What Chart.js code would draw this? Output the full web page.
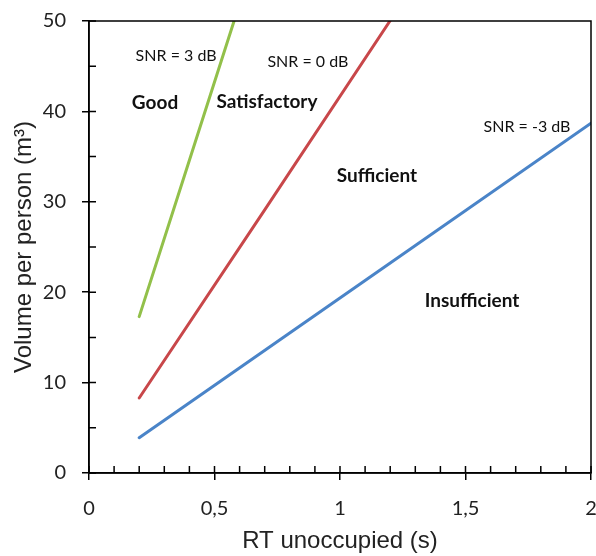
<!DOCTYPE html>
<html><head><meta charset="utf-8">
<style>html,body{margin:0;padding:0;background:#fff;}</style>
<script src="https://cdn.jsdelivr.net/npm/chart.js@4.4.0/dist/chart.umd.min.js"></script>
</head><body>
<canvas id="c" width="596" height="556"></canvas>
<script>
// Data
const rtGreen = [0.2, 0.4, 0.578];
const volGreen = [17.3, 34.6, 50];
const rtRed = [0.2, 0.7, 1.199];
const volRed = [8.3, 29.1, 50];
const rtBlue = [0.2, 1.1, 2.0];
const volBlue = [3.9, 21.3, 38.7];

const xTickValues = [0, 0.5, 1, 1.5, 2];
const xTickLabels = ["0", "0,5", "1", "1,5", "2"];
const yTickLabels = ["0", "10", "20", "30", "40", "50"];

const annoText = ["SNR = 3 dB", "SNR = 0 dB", "SNR = -3 dB", "Good", "Satisfactory", "Sufficient", "Insufficient"];
const annoX = [0.347, 0.872, 1.745, 0.263, 0.709, 1.147, 1.526];
const annoY = [46.1, 45.5, 38.3, 40.9, 41.0, 32.9, 19.0];
const annoBold = [false, false, false, true, true, true, true];

function pts(xs, ys) { return xs.map((x, i) => ({x: x, y: ys[i]})); }
const near = (a, b) => Math.abs(a - b) < 1e-6;
function isMajorX(v) { return near(v * 2, Math.round(v * 2)); }
function isMajorY(v) { return near(v / 10, Math.round(v / 10)); }

const framePlugin = {
  id: 'frame',
  afterDraw(chart) {
    const {ctx, chartArea: a, scales} = chart;
    ctx.save();
    ctx.strokeStyle = '#000';
    ctx.lineWidth = 1.5;
    ctx.strokeRect(a.left, a.top, a.right - a.left, a.bottom - a.top);
    ctx.beginPath();
    scales.x.ticks.forEach(t => {
      const px = scales.x.getPixelForValue(t.value);
      ctx.moveTo(px, a.bottom); ctx.lineTo(px, a.bottom - 7);
    });
    scales.y.ticks.forEach(t => {
      const py = scales.y.getPixelForValue(t.value);
      ctx.moveTo(a.left, py); ctx.lineTo(a.left + 7, py);
    });
    ctx.stroke();
    ctx.restore();
  }
};

const annoPlugin = {
  id: 'anno',
  afterDatasetsDraw(chart) {
    const {ctx, scales} = chart;
    ctx.save();
    ctx.fillStyle = '#111';
    ctx.textAlign = 'center';
    ctx.textBaseline = 'middle';
    annoText.forEach((t, i) => {
      ctx.font = annoBold[i] ? 'bold 19px Lato' : '16px Lato';
      ctx.fillText(t, scales.x.getPixelForValue(annoX[i]), scales.y.getPixelForValue(annoY[i]));
    });
    ctx.restore();
  }
};

new Chart(document.getElementById('c'), {
  type: 'scatter',
  data: {
    datasets: [
      {data: pts(rtGreen, volGreen), borderColor: '#92C04A', showLine: true, borderWidth: 3, pointRadius: 0, borderCapStyle: 'round'},
      {data: pts(rtRed, volRed), borderColor: '#C8474A', showLine: true, borderWidth: 3, pointRadius: 0, borderCapStyle: 'round'},
      {data: pts(rtBlue, volBlue), borderColor: '#4A84C8', showLine: true, borderWidth: 3, pointRadius: 0, borderCapStyle: 'round'}
    ]
  },
  options: {
    responsive: false,
    animation: false,
    devicePixelRatio: 1,
    layout: {padding: {left: 0, right: 5, top: 21, bottom: 0}},
    plugins: {legend: {display: false}, tooltip: {enabled: false}},
    scales: {
      x: {
        type: 'linear', min: 0, max: 2,
        afterFit(s) { s.height = 83; s.paddingLeft = 0; s.paddingRight = 0; },
        ticks: {
          stepSize: 0.1, autoSkip: false, maxRotation: 0, padding: 17,
          color: '#222', font: {family: 'Lato', size: 20},
          callback(v) {
            const i = xTickValues.findIndex(t => near(t, v));
            return i >= 0 ? xTickLabels[i] : '';
          }
        },
        grid: {drawOnChartArea: false, tickLength: 7, lineWidth: 1.5,
          tickColor: c => (c.tick && isMajorX(c.tick.value)) ? '#000' : 'rgba(0,0,0,0)'},
        border: {color: '#000', width: 1.5},
        title: {display: true, text: 'RT unoccupied (s)', color: '#222',
          font: {family: 'Liberation Sans', size: 24}, padding: {top: 0, bottom: 0}}
      },
      y: {
        type: 'linear', min: 0, max: 50,
        afterFit(s) { s.width = 89; s.paddingTop = 0; s.paddingBottom = 0; },
        ticks: {
          stepSize: 5, autoSkip: false, padding: 16,
          color: '#222', font: {family: 'Lato', size: 20},
          callback(v) { return isMajorY(v) ? yTickLabels[Math.round(v / 10)] : ''; }
        },
        grid: {drawOnChartArea: false, tickLength: 7, lineWidth: 1.5,
          tickColor: c => (c.tick && isMajorY(c.tick.value)) ? '#000' : 'rgba(0,0,0,0)'},
        border: {color: '#000', width: 1.5},
        title: {display: true, text: 'Volume per person (m³)', color: '#222',
          font: {family: 'Liberation Sans', size: 24}, padding: {top: 10, bottom: 0}}
      }
    }
  },
  plugins: [framePlugin, annoPlugin]
});
</script>
</body></html>
